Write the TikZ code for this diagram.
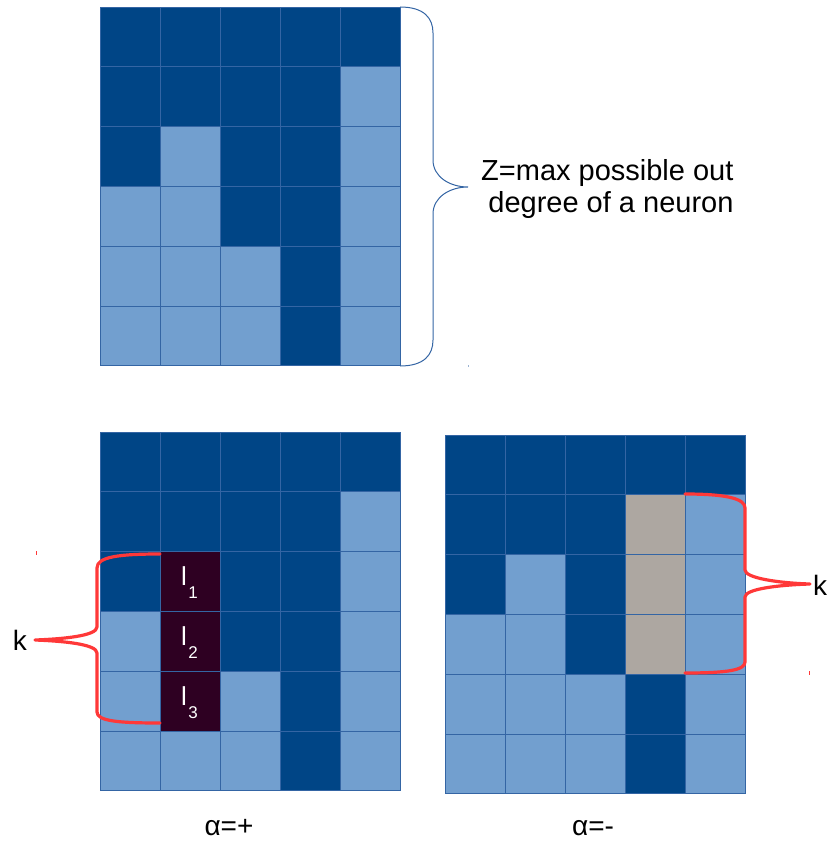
\documentclass[tikz,border=0pt]{standalone}
\usepackage{fontspec}
\setmainfont{Liberation Sans}
\definecolor{dk}{HTML}{004586}
\definecolor{lt}{HTML}{729FCF}
\definecolor{pu}{HTML}{2E0022}
\definecolor{gy}{HTML}{ADA7A1}
\definecolor{gridc}{HTML}{3465A4}
\definecolor{redb}{HTML}{FF3838}
\tikzset{
  cellbox/.style={draw=gridc, line width=0.8pt},
  bluebrace/.style={draw=gridc, line width=1pt},
  redbrace/.style={draw=redb, line width=3.2pt, line cap=round, line join=round},
  lbl/.style={inner sep=0pt, font=\fontsize{28}{32}\selectfont},
  zlbl/.style={inner sep=0pt, font=\fontsize{29}{32.5}\selectfont},
  llbl/.style={inner sep=0pt, text=white, anchor=base west},
}
\newcommand\drawmygrid[3]{%
  \foreach \rowlist [count=\r from 0] in {#3} {%
    \foreach \cc [count=\k from 0] in \rowlist {%
      \filldraw[cellbox, fill=\cc] ({#1+\k*60},{#2+\r*59.8}) rectangle ++(60,59.8);
    }
  }
}
\newcommand\lsub[1]{\fontsize{26}{26}\selectfont l\hspace{1.5pt}\raisebox{-13pt}{\fontsize{17}{17}\selectfont #1}}
\begin{document}
\begin{tikzpicture}[x=1pt,y=-1pt]
\useasboundingbox (0,0) rectangle (831,842);
% top grid
\drawmygrid{100}{7}{{dk,dk,dk,dk,dk},{dk,dk,dk,dk,lt},{dk,lt,dk,dk,lt},{lt,lt,dk,dk,lt},{lt,lt,lt,dk,lt},{lt,lt,lt,dk,lt}}
% bottom left grid
\drawmygrid{100}{432}{{dk,dk,dk,dk,dk},{dk,dk,dk,dk,lt},{dk,pu,dk,dk,lt},{lt,pu,dk,dk,lt},{lt,pu,lt,dk,lt},{lt,lt,lt,dk,lt}}
% bottom right grid
\drawmygrid{445}{435}{{dk,dk,dk,dk,dk},{dk,dk,dk,gy,lt},{dk,lt,dk,gy,lt},{lt,lt,dk,gy,lt},{lt,lt,lt,dk,lt},{lt,lt,lt,dk,lt}}
% top brace
\coordinate (ztip) at (468,187);
\draw[bluebrace] (400,7) .. controls (424,7) and (433,18) .. (433,33) -- (433,160)
  .. controls (433,177) and (450,187) .. (ztip)
  .. controls (450,187) and (433,197) .. (433,214) -- (433,340)
  .. controls (433,355) and (424,366) .. (400,366);
\node[zlbl, anchor=west, align=right] (ztext) at (481,189) {Z=max possible out\\ degree of a neuron};
% left red brace
\coordinate (ltip) at (35,640);
\draw[redbrace] (160,554) .. controls (118,554) and (97,557) .. (97,568) -- (97,627)
  .. controls (97,636) and (62,639) .. (ltip)
  .. controls (62,641) and (97,644) .. (97,653) -- (97,712)
  .. controls (97,721) and (118,723) .. (160,723);
\node[lbl, anchor=east] (kl) at (27,640) {k};
% right red brace
\coordinate (rtip) at (810,584);
\draw[redbrace] (685,494) .. controls (728,494) and (745,499) .. (745,508) -- (745,570)
  .. controls (745,578) and (778,583) .. (rtip)
  .. controls (778,585) and (745,589) .. (745,597) -- (745,662)
  .. controls (745,670) and (728,673) .. (685,673);
\node[lbl, anchor=west] (kr) at (813,585) {k};
% l labels
\node[llbl] (l1) at (181,585) {\lsub{1}};
\node[llbl] (l2) at (181,645) {\lsub{2}};
\node[llbl] (l3) at (181,705) {\lsub{3}};
% alpha labels
\node[lbl, anchor=base] (ap) at (229,835) {α=+};
\node[lbl, anchor=base] (am) at (593,835) {α=-};
% stray marks
\draw[redb, line width=1pt] (36,551) -- (36,555);
\draw[redb, line width=1pt] (809,671) -- (809,675);
\draw[gridc!50, line width=1pt] (468,365) -- (468,367);
\end{tikzpicture}
\end{document}
